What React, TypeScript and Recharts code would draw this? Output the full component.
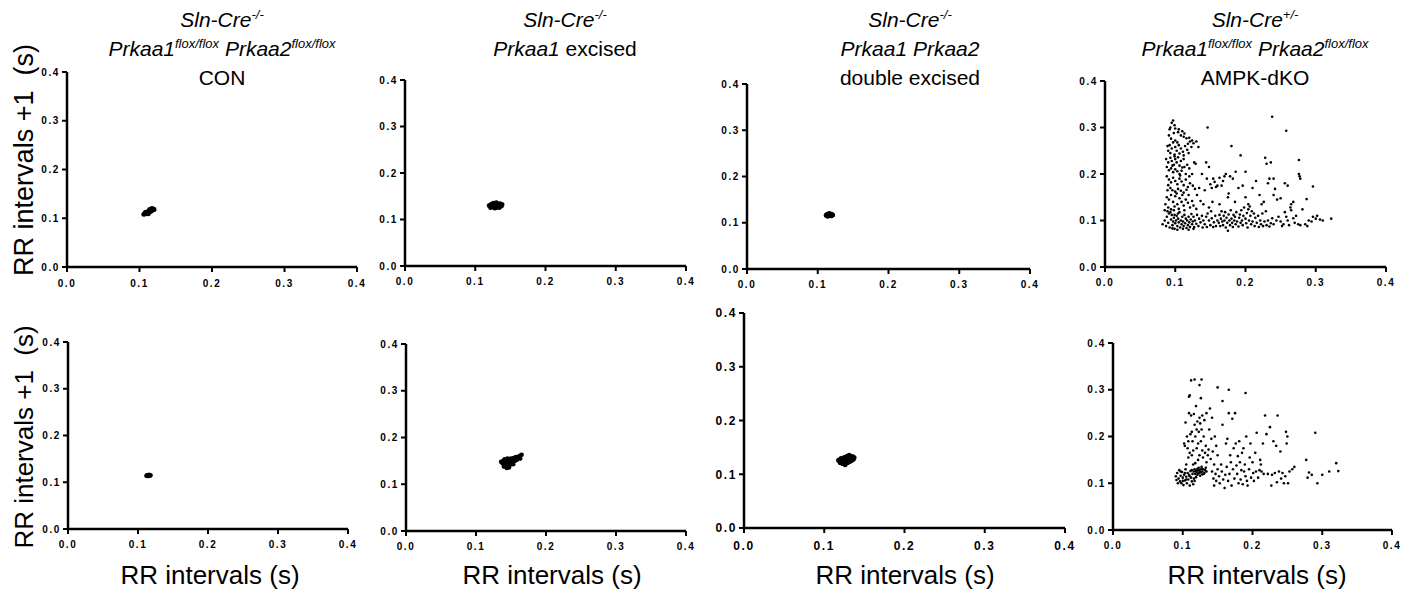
import React from 'react';
import { ScatterChart, Scatter, XAxis, YAxis } from 'recharts';

const TICKS = [0, 0.1, 0.2, 0.3, 0.4];

// Top row
const conTop: [number, number][] = [
  [0.106, 0.108], [0.108, 0.109], [0.109, 0.111], [0.111, 0.11], [0.112, 0.113], [0.113, 0.112],
  [0.114, 0.115], [0.115, 0.114], [0.116, 0.117], [0.117, 0.116], [0.118, 0.118], [0.119, 0.119],
  [0.12, 0.118], [0.11, 0.113], [0.114, 0.118], [0.117, 0.12], [0.112, 0.109], [0.108, 0.112],
];
const a1Top: [number, number][] = [
  [0.12, 0.13], [0.122, 0.126], [0.123, 0.133], [0.125, 0.128], [0.126, 0.135], [0.128, 0.125],
  [0.129, 0.131], [0.13, 0.136], [0.131, 0.127], [0.133, 0.132], [0.134, 0.126], [0.135, 0.134],
  [0.137, 0.129], [0.127, 0.129], [0.132, 0.13], [0.138, 0.132], [0.124, 0.131],
];
const a12Top: [number, number][] = [
  [0.112, 0.116], [0.114, 0.114], [0.115, 0.118], [0.117, 0.116], [0.118, 0.119], [0.119, 0.115],
  [0.12, 0.118], [0.116, 0.12], [0.121, 0.117], [0.113, 0.118],
];
const dkoTop: [number, number][] = [
  // vertical band
  [0.093, 0.3], [0.095, 0.31], [0.097, 0.315], [0.099, 0.305], [0.092, 0.296], [0.1, 0.298], [0.104, 0.29],
  [0.098, 0.288], [0.105, 0.296], [0.11, 0.292], [0.108, 0.283], [0.112, 0.28], [0.116, 0.277], [0.12, 0.278],
  [0.121, 0.27], [0.118, 0.265], [0.091, 0.283], [0.094, 0.276], [0.1, 0.272], [0.103, 0.268], [0.124, 0.272],
  [0.113, 0.287], [0.089, 0.26], [0.092, 0.262], [0.095, 0.255], [0.097, 0.268], [0.1, 0.258], [0.102, 0.25],
  [0.105, 0.262], [0.108, 0.255], [0.111, 0.248], [0.114, 0.26], [0.117, 0.252], [0.093, 0.245], [0.099, 0.242],
  [0.106, 0.244], [0.112, 0.24], [0.119, 0.245], [0.123, 0.258], [0.126, 0.266], [0.09, 0.25],
  [0.087, 0.232], [0.09, 0.225], [0.093, 0.235], [0.095, 0.228], [0.098, 0.22], [0.1, 0.232], [0.102, 0.225],
  [0.104, 0.236], [0.106, 0.218], [0.108, 0.228], [0.11, 0.214], [0.112, 0.232], [0.088, 0.215], [0.091, 0.208],
  [0.094, 0.212], [0.097, 0.204], [0.1, 0.21], [0.103, 0.206], [0.106, 0.2], [0.109, 0.207], [0.113, 0.215],
  [0.117, 0.22], [0.12, 0.212], [0.124, 0.2], [0.129, 0.222], [0.115, 0.2], [0.096, 0.218], [0.099, 0.238],
  [0.088, 0.195], [0.091, 0.188], [0.094, 0.182], [0.097, 0.192], [0.1, 0.185], [0.103, 0.178], [0.106, 0.19],
  [0.109, 0.184], [0.112, 0.176], [0.115, 0.188], [0.118, 0.172], [0.121, 0.18], [0.125, 0.175], [0.093, 0.17],
  [0.096, 0.165], [0.1, 0.162], [0.104, 0.168], [0.108, 0.164], [0.112, 0.16], [0.116, 0.166], [0.09, 0.176],
  [0.089, 0.165], [0.128, 0.168], [0.12, 0.195], [0.107, 0.197],
  [0.088, 0.15], [0.091, 0.145], [0.094, 0.155], [0.097, 0.14], [0.1, 0.152], [0.103, 0.135], [0.106, 0.148],
  [0.109, 0.14], [0.112, 0.132], [0.115, 0.145], [0.118, 0.138], [0.121, 0.128], [0.124, 0.142], [0.086, 0.135],
  [0.09, 0.128], [0.094, 0.124], [0.099, 0.13], [0.105, 0.125], [0.11, 0.155], [0.113, 0.122], [0.119, 0.155],
  [0.126, 0.132], [0.13, 0.125], [0.085, 0.122], [0.102, 0.158],
  // horizontal band
  [0.082, 0.092], [0.085, 0.1], [0.087, 0.088], [0.088, 0.108], [0.09, 0.095], [0.091, 0.115], [0.092, 0.085],
  [0.094, 0.102], [0.095, 0.112], [0.096, 0.09], [0.097, 0.098], [0.098, 0.106], [0.099, 0.082], [0.1, 0.094],
  [0.101, 0.1], [0.102, 0.11], [0.103, 0.088], [0.104, 0.104], [0.105, 0.096], [0.106, 0.118], [0.107, 0.085],
  [0.108, 0.1], [0.109, 0.092], [0.11, 0.108], [0.111, 0.098], [0.112, 0.088], [0.113, 0.112], [0.114, 0.094],
  [0.115, 0.104], [0.116, 0.084], [0.117, 0.1], [0.118, 0.09], [0.119, 0.108], [0.12, 0.096], [0.121, 0.086],
  [0.122, 0.102], [0.123, 0.114], [0.124, 0.092], [0.125, 0.098], [0.126, 0.108], [0.127, 0.086], [0.128, 0.1],
  [0.13, 0.093], [0.131, 0.112], [0.133, 0.088], [0.134, 0.104], [0.136, 0.096], [0.138, 0.11], [0.139, 0.085],
  [0.14, 0.1], [0.089, 0.12], [0.093, 0.118], [0.098, 0.122], [0.104, 0.115], [0.096, 0.083], [0.103, 0.08],
  [0.111, 0.082], [0.119, 0.08], [0.126, 0.082], [0.099, 0.112],
  [0.142, 0.092], [0.144, 0.108], [0.145, 0.086], [0.146, 0.115], [0.148, 0.1], [0.15, 0.09], [0.151, 0.12],
  [0.152, 0.105], [0.154, 0.086], [0.155, 0.096], [0.157, 0.11], [0.158, 0.088], [0.16, 0.1], [0.148, 0.128],
  [0.153, 0.14],
  [0.162, 0.095], [0.163, 0.112], [0.164, 0.088], [0.165, 0.104], [0.166, 0.12], [0.167, 0.098], [0.168, 0.09],
  [0.169, 0.11], [0.17, 0.1], [0.171, 0.118], [0.172, 0.085], [0.173, 0.106], [0.174, 0.095], [0.175, 0.078],
  [0.176, 0.113], [0.177, 0.1], [0.178, 0.09], [0.179, 0.122], [0.18, 0.104], [0.181, 0.095], [0.182, 0.086],
  [0.183, 0.112], [0.184, 0.1], [0.185, 0.108], [0.186, 0.092], [0.187, 0.118], [0.188, 0.098], [0.19, 0.087],
  [0.191, 0.106], [0.192, 0.113], [0.193, 0.095], [0.194, 0.122], [0.195, 0.1], [0.196, 0.09], [0.197, 0.11],
  [0.198, 0.128], [0.2, 0.104], [0.201, 0.094], [0.202, 0.116], [0.203, 0.085], [0.204, 0.124], [0.205, 0.1],
  [0.206, 0.13], [0.207, 0.11], [0.208, 0.092], [0.209, 0.12], [0.21, 0.098], [0.212, 0.115], [0.213, 0.088],
  [0.214, 0.106], [0.216, 0.095], [0.218, 0.11], [0.219, 0.086], [0.221, 0.1], [0.222, 0.092], [0.224, 0.115],
  [0.225, 0.088], [0.227, 0.098], [0.229, 0.12], [0.23, 0.09], [0.232, 0.1], [0.234, 0.087], [0.236, 0.094],
  [0.238, 0.105], [0.24, 0.092],
  [0.244, 0.1], [0.247, 0.108], [0.25, 0.098], [0.252, 0.088], [0.254, 0.092], [0.256, 0.118], [0.258, 0.108],
  [0.26, 0.1], [0.262, 0.09], [0.264, 0.128], [0.265, 0.122], [0.265, 0.135], [0.268, 0.105], [0.27, 0.095],
  [0.272, 0.11], [0.275, 0.092], [0.278, 0.09], [0.281, 0.124], [0.285, 0.092], [0.288, 0.088], [0.29, 0.1],
  [0.294, 0.098], [0.296, 0.108], [0.3, 0.104], [0.302, 0.11], [0.306, 0.102], [0.31, 0.1], [0.322, 0.104],
  // scattered middle
  [0.131, 0.155], [0.134, 0.17], [0.136, 0.142], [0.138, 0.2], [0.14, 0.135], [0.142, 0.165], [0.144, 0.225],
  [0.145, 0.19], [0.146, 0.3], [0.148, 0.215], [0.15, 0.178], [0.152, 0.17], [0.154, 0.19], [0.156, 0.183],
  [0.158, 0.172], [0.16, 0.175], [0.163, 0.192], [0.166, 0.175], [0.168, 0.185], [0.17, 0.195], [0.172, 0.2],
  [0.175, 0.15], [0.176, 0.158], [0.178, 0.195], [0.18, 0.26], [0.182, 0.19], [0.186, 0.205], [0.19, 0.17],
  [0.193, 0.24], [0.196, 0.175], [0.2, 0.205], [0.204, 0.135], [0.21, 0.17], [0.215, 0.185], [0.22, 0.155],
  [0.223, 0.135], [0.226, 0.14], [0.228, 0.235], [0.23, 0.222], [0.232, 0.18], [0.234, 0.19], [0.236, 0.225],
  [0.238, 0.323], [0.24, 0.19], [0.242, 0.168], [0.245, 0.145], [0.25, 0.148], [0.256, 0.18], [0.258, 0.293],
  [0.26, 0.175], [0.268, 0.14], [0.276, 0.2], [0.277, 0.195], [0.276, 0.23], [0.278, 0.19], [0.296, 0.173],
  [0.287, 0.146], [0.13, 0.27], [0.133, 0.258], [0.127, 0.225], [0.24, 0.155], [0.2, 0.15], [0.185, 0.14],
  [0.163, 0.135],
];

// Bottom row
const conBot: [number, number][] = [
  [0.112, 0.114], [0.114, 0.113], [0.115, 0.115], [0.117, 0.114], [0.116, 0.116], [0.118, 0.115], [0.113, 0.115],
];
const a1Bot: [number, number][] = [
  [0.136, 0.148], [0.138, 0.145], [0.139, 0.15], [0.14, 0.142], [0.141, 0.153], [0.142, 0.146], [0.143, 0.139],
  [0.144, 0.15], [0.145, 0.144], [0.146, 0.152], [0.147, 0.136], [0.148, 0.148], [0.149, 0.142], [0.15, 0.155],
  [0.151, 0.146], [0.152, 0.15], [0.153, 0.143], [0.154, 0.156], [0.155, 0.15], [0.156, 0.153], [0.157, 0.158],
  [0.158, 0.152], [0.16, 0.157], [0.162, 0.16], [0.163, 0.155], [0.165, 0.163], [0.145, 0.155], [0.14, 0.138],
  [0.144, 0.135],
];
const a12Bot: [number, number][] = [
  [0.118, 0.126], [0.12, 0.122], [0.121, 0.129], [0.123, 0.12], [0.124, 0.125], [0.125, 0.131], [0.126, 0.118],
  [0.127, 0.127], [0.128, 0.133], [0.129, 0.122], [0.13, 0.128], [0.131, 0.135], [0.132, 0.124], [0.133, 0.13],
  [0.134, 0.126], [0.135, 0.133], [0.136, 0.128], [0.137, 0.131], [0.126, 0.124], [0.13, 0.125], [0.128, 0.129],
];
const dkoBot: [number, number][] = [
  [0.118, 0.12], [0.12, 0.124], [0.122, 0.128], [0.124, 0.122], [0.126, 0.13], [0.128, 0.125], [0.13, 0.12],
  [0.132, 0.128], [0.121, 0.118], [0.125, 0.116], [0.123, 0.133], [0.127, 0.135], [0.129, 0.13], [0.131, 0.122],
  [0.119, 0.127], [0.116, 0.125], [0.133, 0.133], [0.134, 0.125], [0.117, 0.13], [0.122, 0.121], [0.126, 0.124],
  [0.124, 0.127], [0.128, 0.119], [0.121, 0.131],
  [0.092, 0.122], [0.094, 0.11], [0.095, 0.128], [0.096, 0.104], [0.097, 0.116], [0.098, 0.1], [0.099, 0.124],
  [0.1, 0.112], [0.101, 0.096], [0.102, 0.118], [0.103, 0.106], [0.104, 0.13], [0.105, 0.114], [0.106, 0.1],
  [0.107, 0.122], [0.108, 0.108], [0.109, 0.118], [0.11, 0.095], [0.111, 0.126], [0.112, 0.112], [0.113, 0.104],
  [0.114, 0.12], [0.115, 0.098], [0.116, 0.11], [0.09, 0.115], [0.093, 0.1], [0.097, 0.125], [0.1, 0.105],
  [0.105, 0.108], [0.11, 0.115], [0.113, 0.128], [0.117, 0.105], [0.119, 0.113], [0.091, 0.107], [0.103, 0.122],
  [0.102, 0.185], [0.103, 0.18], [0.104, 0.23], [0.106, 0.2], [0.107, 0.175], [0.108, 0.19], [0.109, 0.25],
  [0.109, 0.285], [0.11, 0.288], [0.11, 0.165], [0.111, 0.205], [0.112, 0.245], [0.113, 0.16], [0.113, 0.21],
  [0.114, 0.19], [0.115, 0.17], [0.116, 0.248], [0.117, 0.225], [0.118, 0.2], [0.118, 0.143], [0.119, 0.265],
  [0.12, 0.175], [0.12, 0.215], [0.121, 0.232], [0.122, 0.185], [0.122, 0.15], [0.123, 0.21], [0.124, 0.24],
  [0.124, 0.16], [0.125, 0.228], [0.126, 0.282], [0.126, 0.19], [0.127, 0.215], [0.128, 0.17], [0.128, 0.245],
  [0.129, 0.155], [0.13, 0.2], [0.131, 0.235], [0.132, 0.165], [0.133, 0.18], [0.134, 0.25], [0.134, 0.145],
  [0.136, 0.16], [0.137, 0.172], [0.138, 0.215], [0.139, 0.26], [0.14, 0.152], [0.141, 0.195], [0.142, 0.24],
  [0.143, 0.168], [0.145, 0.14], [0.146, 0.2], [0.148, 0.18], [0.15, 0.16], [0.112, 0.32], [0.117, 0.322],
  [0.124, 0.31], [0.127, 0.322], [0.15, 0.305], [0.166, 0.3], [0.19, 0.293], [0.157, 0.276], [0.105, 0.14],
  [0.108, 0.155], [0.115, 0.14],
  [0.142, 0.125], [0.144, 0.11], [0.145, 0.095], [0.147, 0.12], [0.148, 0.105], [0.15, 0.13], [0.152, 0.115],
  [0.153, 0.1], [0.155, 0.14], [0.156, 0.125], [0.157, 0.225], [0.158, 0.108], [0.16, 0.09], [0.161, 0.118],
  [0.162, 0.185], [0.163, 0.135], [0.164, 0.195], [0.165, 0.105], [0.166, 0.25], [0.167, 0.12], [0.168, 0.16],
  [0.169, 0.145], [0.17, 0.095], [0.171, 0.238], [0.172, 0.13], [0.173, 0.175], [0.174, 0.11], [0.175, 0.25],
  [0.176, 0.185], [0.177, 0.138], [0.178, 0.12], [0.179, 0.158], [0.18, 0.1], [0.181, 0.19], [0.182, 0.145],
  [0.183, 0.108], [0.184, 0.128], [0.185, 0.165], [0.186, 0.098], [0.187, 0.175], [0.188, 0.125], [0.189, 0.14],
  [0.19, 0.115], [0.191, 0.2], [0.192, 0.105], [0.193, 0.095], [0.195, 0.13], [0.196, 0.155], [0.197, 0.185],
  [0.198, 0.112], [0.2, 0.145], [0.201, 0.122], [0.202, 0.105], [0.204, 0.165], [0.205, 0.125], [0.206, 0.208],
  [0.208, 0.112], [0.21, 0.128], [0.211, 0.15], [0.212, 0.14], [0.213, 0.125], [0.215, 0.185], [0.216, 0.12],
  [0.218, 0.245], [0.22, 0.205], [0.222, 0.12], [0.225, 0.22], [0.227, 0.095], [0.228, 0.118], [0.23, 0.19],
  [0.232, 0.122], [0.234, 0.18], [0.235, 0.102], [0.236, 0.245], [0.238, 0.125], [0.24, 0.168], [0.241, 0.11],
  [0.243, 0.122], [0.245, 0.1], [0.247, 0.115], [0.248, 0.21], [0.249, 0.185], [0.25, 0.2], [0.251, 0.1],
  [0.253, 0.125], [0.257, 0.13], [0.26, 0.135], [0.277, 0.15], [0.279, 0.112], [0.281, 0.123], [0.285, 0.118],
  [0.29, 0.208], [0.293, 0.1], [0.3, 0.118], [0.31, 0.125], [0.32, 0.143], [0.323, 0.126],
];

const Y_LABEL = 'RR intervals +1  (s)';
const X_LABEL = 'RR intervals (s)';

type Rect = { x0: number; x1: number; y0: number; y1: number };

const FONT = 'Arial, "Liberation Sans", sans-serif';

function Panel({ rect, data, r, tickFont, tickGap }: { rect: Rect; data: [number, number][]; r: number; tickFont: number; tickGap: number }) {
  const ML = 50, MT = 15, MR = 24, XH = 40;
  const w = rect.x1 - rect.x0 + ML + MR;
  const h = rect.y1 - rect.y0 + MT + XH;
  const pts = data.map(([x, y]) => ({ x, y }));
  const tickStyle = { fontSize: tickFont, fontWeight: 700, fill: '#000', fontFamily: FONT, letterSpacing: 1.6 };
  return (
    <div style={{ position: 'absolute', left: rect.x0 - ML, top: rect.y0 - MT }}>
      <ScatterChart width={w} height={h} margin={{ top: MT, right: MR, bottom: 0, left: 0 }}>
        <XAxis
          type="number"
          dataKey="x"
          domain={[0, 0.4]}
          ticks={TICKS}
          height={XH}
          tickFormatter={(v: number) => v.toFixed(1)}
          axisLine={{ stroke: '#000', strokeWidth: 2.5 }}
          tickLine={{ stroke: '#000', strokeWidth: 2 }}
          tickSize={5}
          tickMargin={tickGap}
          tick={tickStyle}
          interval={0}
        />
        <YAxis
          type="number"
          dataKey="y"
          domain={[0, 0.4]}
          ticks={TICKS}
          width={ML}
          tickFormatter={(v: number) => v.toFixed(1)}
          axisLine={{ stroke: '#000', strokeWidth: 2.5 }}
          tickLine={{ stroke: '#000', strokeWidth: 2 }}
          tickSize={5}
          tickMargin={2}
          tick={tickStyle}
          interval={0}
        />
        <Scatter
          data={pts}
          isAnimationActive={false}
          shape={(p: any) => <circle cx={p.cx} cy={p.cy} r={r} fill="#000" />}
        />
      </ScatterChart>
    </div>
  );
}

const TITLE_SIZE = 21;
const SUP_SIZE = 13;
const SUP_DY = 8;

function Titles() {
  const cols = [222, 565, 910, 1255];
  const b1 = 27, b2 = 56, b3 = 85;
  const common = { fontFamily: FONT, fontSize: TITLE_SIZE, fill: '#000', textAnchor: 'middle' as const };
  return (
    <>
      {/* col 1 */}
      <text x={cols[0]} y={b1} {...common} fontStyle="italic">
        <tspan>Sln-Cre</tspan><tspan fontSize={SUP_SIZE} dy={-SUP_DY}>-/-</tspan>
      </text>
      <text x={cols[0]} y={b2} {...common} fontStyle="italic">
        <tspan>Prkaa1</tspan><tspan fontSize={SUP_SIZE} dy={-SUP_DY}>flox/flox</tspan>
        <tspan dy={SUP_DY}> Prkaa2</tspan><tspan fontSize={SUP_SIZE} dy={-SUP_DY}>flox/flox</tspan>
      </text>
      <text x={cols[0]} y={b3} {...common}>CON</text>
      {/* col 2 */}
      <text x={cols[1]} y={b1} {...common} fontStyle="italic">
        <tspan>Sln-Cre</tspan><tspan fontSize={SUP_SIZE} dy={-SUP_DY}>-/-</tspan>
      </text>
      <text x={cols[1]} y={b2} {...common}><tspan fontStyle="italic">Prkaa1</tspan> excised</text>
      {/* col 3 */}
      <text x={cols[2]} y={b1} {...common} fontStyle="italic">
        <tspan>Sln-Cre</tspan><tspan fontSize={SUP_SIZE} dy={-SUP_DY}>-/-</tspan>
      </text>
      <text x={cols[2]} y={b2} {...common} fontStyle="italic">Prkaa1 Prkaa2</text>
      <text x={cols[2]} y={b3} {...common}>double excised</text>
      {/* col 4 */}
      <text x={cols[3]} y={b1} {...common} fontStyle="italic">
        <tspan>Sln-Cre</tspan><tspan fontSize={SUP_SIZE} dy={-SUP_DY}>+/-</tspan>
      </text>
      <text x={cols[3]} y={b2} {...common} fontStyle="italic">
        <tspan>Prkaa1</tspan><tspan fontSize={SUP_SIZE} dy={-SUP_DY}>flox/flox</tspan>
        <tspan dy={SUP_DY}> Prkaa2</tspan><tspan fontSize={SUP_SIZE} dy={-SUP_DY}>flox/flox</tspan>
      </text>
      <text x={cols[3]} y={b3} {...common}>AMPK-dKO</text>
    </>
  );
}

const PANELS: { rect: Rect; data: [number, number][]; r: number; tickFont: number; tickGap: number }[] = [
  { rect: { x0: 67, x1: 357, y0: 72, y1: 267 }, data: conTop, r: 2.5, tickFont: 10, tickGap: 8 },
  { rect: { x0: 405, x1: 686, y0: 80, y1: 266 }, data: a1Top, r: 2.5, tickFont: 10, tickGap: 7 },
  { rect: { x0: 747, x1: 1030, y0: 84, y1: 269 }, data: a12Top, r: 2.5, tickFont: 10, tickGap: 7 },
  { rect: { x0: 1105, x1: 1386, y0: 81, y1: 267 }, data: dkoTop, r: 1.3, tickFont: 10, tickGap: 7 },
  { rect: { x0: 68, x1: 348, y0: 342, y1: 529 }, data: conBot, r: 2.2, tickFont: 10, tickGap: 7 },
  { rect: { x0: 406, x1: 686, y0: 344, y1: 531 }, data: a1Bot, r: 2.4, tickFont: 10, tickGap: 7 },
  { rect: { x0: 744, x1: 1065, y0: 313, y1: 528 }, data: a12Bot, r: 2.6, tickFont: 12, tickGap: 8 },
  { rect: { x0: 1113, x1: 1392, y0: 343, y1: 530 }, data: dkoBot, r: 1.3, tickFont: 10, tickGap: 7 },
];

export default function App() {
  return (
    <div style={{ position: 'absolute', left: 0, top: 0, width: 1401, height: 594, background: '#fff', overflow: 'hidden' }}>
      {PANELS.map((p, i) => (
        <Panel key={i} {...p} />
      ))}
      <svg width={1401} height={594} style={{ position: 'absolute', left: 0, top: 0, pointerEvents: 'none' }}>
        <Titles />
        <text x={33} y={160} transform="rotate(-90 33 160)" textAnchor="middle" fontFamily={FONT} fontSize={27} fill="#000" style={{ whiteSpace: 'pre' }}>{Y_LABEL}</text>
        <text x={33} y={437} transform="rotate(-90 33 437)" textAnchor="middle" fontFamily={FONT} fontSize={26} fill="#000" style={{ whiteSpace: 'pre' }}>{Y_LABEL}</text>
        <text x={210} y={584} textAnchor="middle" fontFamily={FONT} fontSize={26} fill="#000">{X_LABEL}</text>
        <text x={552} y={584} textAnchor="middle" fontFamily={FONT} fontSize={26} fill="#000">{X_LABEL}</text>
        <text x={905} y={584} textAnchor="middle" fontFamily={FONT} fontSize={26} fill="#000">{X_LABEL}</text>
        <text x={1257} y={584} textAnchor="middle" fontFamily={FONT} fontSize={26} fill="#000">{X_LABEL}</text>
      </svg>
    </div>
  );
}
